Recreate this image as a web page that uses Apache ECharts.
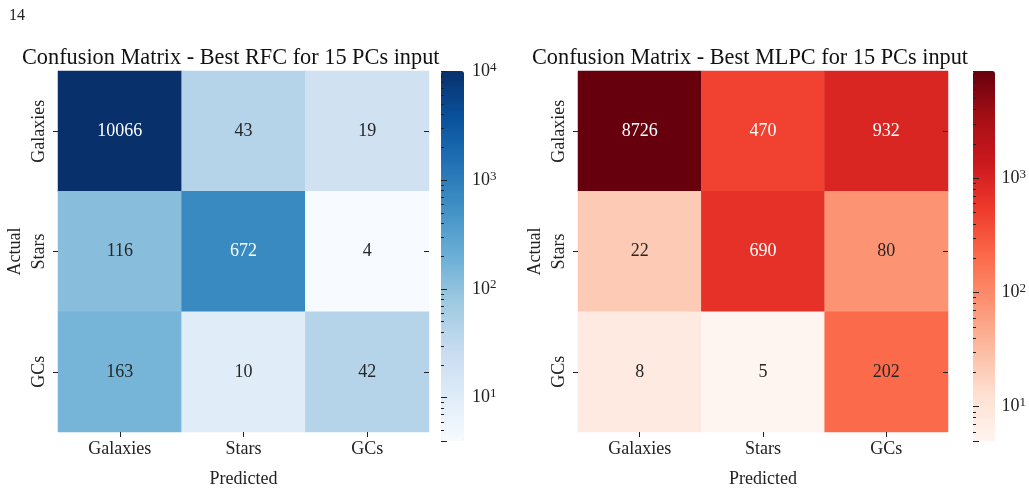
<!DOCTYPE html>
<html>
<head>
<meta charset="UTF-8">
<script src="https://cdn.jsdelivr.net/npm/echarts@6/dist/echarts.min.js"></script>
<style>body{margin:0;background:#fff}#c{width:1029px;height:493px}</style>
</head>
<body>
<div id="c"></div>
<script>
var classes = ['Galaxies', 'Stars', 'GCs'];
// rows = actual, cols = predicted
var rfcMatrix = [[10066, 43, 19], [116, 672, 4], [163, 10, 42]];
var mlpcMatrix = [[8726, 470, 932], [22, 690, 80], [8, 5, 202]];
var rfcRange = [4, 10066];
var mlpcRange = [5, 8726];
var blues = ['#f7fbff','#deebf7','#c6dbef','#9ecae1','#6baed6','#4292c6','#2171b5','#08519c','#08306b'];
var reds = ['#fff5f0','#fee0d2','#fcbba1','#fc9272','#fb6a4a','#ef3b2c','#cb181d','#a50f15','#67000d'];
var font = 'Liberation Serif';
var noLine = {show: true, lineStyle: {color: '#222', opacity: 0}};
var tick = {show: true, alignWithLabel: true, length: 5, lineStyle: {color: '#222', width: 1, opacity: 1}};

function cells(m, range) {
  var out = [];
  var lo = Math.log10(range[0]), hi = Math.log10(range[1]);
  m.forEach(function (row, r) {
    row.forEach(function (v, c) {
      var t = (Math.log10(v) - lo) / (hi - lo);
      out.push({value: [c, r, Math.log10(v), v],
        label: {color: t > 0.6 ? '#fff' : '#262626'}});
    });
  });
  return out;
}
function logLabel(v) {
  var e = Math.log10(v);
  if (Math.abs(e - Math.round(e)) > 1e-6) return '';
  return '10{s|' + Math.round(e) + '}';
}

var grids = [
  {left: 58, top: 71, width: 371, height: 370},
  {left: 578, top: 71, width: 370, height: 370},
  {left: 441, top: 71, width: 23, height: 370},
  {left: 973, top: 71, width: 22, height: 370}
];
var xAxes = [], yAxes = [];
[0, 1].forEach(function (g) {
  xAxes.push({type: 'category', gridIndex: g, data: classes, position: 'bottom', z: 10,
    name: 'Predicted', nameLocation: 'middle', nameGap: 38,
    nameTextStyle: {fontFamily: font, fontSize: 18, color: '#222'},
    axisLine: noLine, splitLine: {show: false}, axisTick: tick,
    axisLabel: {fontFamily: font, fontSize: 18, color: '#222', margin: 8}});
  yAxes.push({type: 'category', gridIndex: g, data: classes, inverse: true, z: 10,
    name: 'Actual', nameLocation: 'middle', nameGap: 34, nameRotate: 90,
    nameTextStyle: {fontFamily: font, fontSize: 18, color: '#222'},
    axisLine: noLine, splitLine: {show: false}, axisTick: tick,
    axisLabel: {fontFamily: font, fontSize: 18, color: '#222', rotate: 90, margin: 10}});
  yAxes.push({type: 'category', gridIndex: g, data: classes, inverse: true, position: 'right', z: 10,
    axisLine: noLine, axisLabel: {show: false}, splitLine: {show: false},
    axisTick: Object.assign({}, tick, {inside: true})});
});
[rfcRange, mlpcRange].forEach(function (rg, i) {
  xAxes.push({type: 'value', gridIndex: 2 + i, show: false, min: 0, max: 1});
  yAxes.push({type: 'log', gridIndex: 2 + i, position: 'right', min: rg[0], max: rg[1], z: 10,
    logBase: 10, axisLine: noLine, splitLine: {show: false},
    axisTick: {show: true, length: 6, lineStyle: {color: '#222', width: 1}},
    minorTick: {show: true, splitNumber: 9, length: 3, lineStyle: {color: '#222', width: 1}},
    axisLabel: {fontFamily: font, fontSize: 18, color: '#222', formatter: logLabel,
      rich: {s: {fontFamily: font, fontSize: 13, color: '#222', verticalAlign: 'top', padding: [0, 0, 8, 0]}}}});
});

var labelStyle = {show: true, fontFamily: font, fontSize: 18,
  formatter: function (p) { return p.value[3]; }};
var option = {
  animation: false,
  title: [
    {text: '14', left: 4, top: 3, textStyle: {fontFamily: font, fontSize: 16, fontWeight: 'normal', color: '#222'}},
    {text: 'Confusion Matrix - Best RFC for 15 PCs input', left: 17, top: 42,
      textStyle: {fontFamily: font, fontSize: 22.3, fontWeight: 'normal', color: '#111'}},
    {text: 'Confusion Matrix - Best MLPC for 15 PCs input', left: 527, top: 42,
      textStyle: {fontFamily: font, fontSize: 22.3, fontWeight: 'normal', color: '#111'}}
  ],
  grid: grids,
  xAxis: xAxes,
  yAxis: yAxes,
  visualMap: [
    {type: 'continuous', seriesIndex: 0, dimension: 2, min: Math.log10(rfcRange[0]), max: Math.log10(rfcRange[1]),
      inRange: {color: blues}, left: 441, top: 71, itemWidth: 23, itemHeight: 370,
      padding: 0, text: null, showLabel: false, calculable: false},
    {type: 'continuous', seriesIndex: 1, dimension: 2, min: Math.log10(mlpcRange[0]), max: Math.log10(mlpcRange[1]),
      inRange: {color: reds}, left: 973, top: 71, itemWidth: 22, itemHeight: 370,
      padding: 0, text: null, showLabel: false, calculable: false}
  ],
  series: [
    {type: 'heatmap', xAxisIndex: 0, yAxisIndex: 0, data: cells(rfcMatrix, rfcRange), label: labelStyle},
    {type: 'heatmap', xAxisIndex: 1, yAxisIndex: 2, data: cells(mlpcMatrix, mlpcRange), label: labelStyle}
  ]
};
echarts.init(document.getElementById('c')).setOption(option);
</script>
</body>
</html>
